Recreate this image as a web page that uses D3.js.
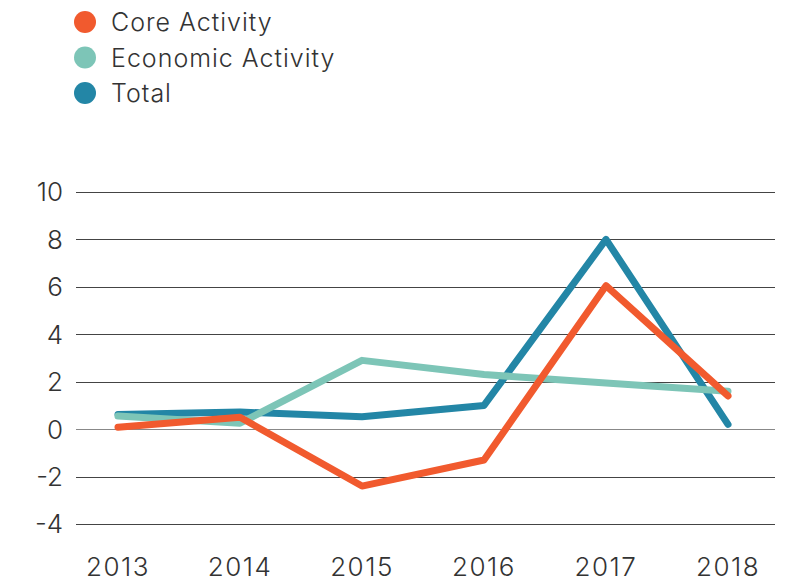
<!DOCTYPE html>
<html>
<head>
<meta charset="utf-8">
<script src="https://cdn.jsdelivr.net/npm/d3@7"></script>
<style>
  body { margin: 0; background: #fff; }
  text { font-family: Inter, "Liberation Sans", sans-serif; font-weight: 300; }
</style>
</head>
<body>
<div id="chart"></div>
<script>
// data
let years = ["2013", "2014", "2015", "2016", "2017", "2018"];
let coreActivity = [0.08, 0.5, -2.4, -1.3, 6.05, 1.4];
let economicActivity = [0.55, 0.25, 2.9, 2.3, 1.95, 1.6];
let total = [0.62, 0.72, 0.52, 1.0, 8.0, 0.2];
let yTicks = [-4, -2, 0, 2, 4, 6, 8, 10];

let seriesNames = ["Core Activity", "Economic Activity", "Total"];
let seriesColors = ["#f15a2e", "#7dc5b7", "#2386a6"];

let width = 785, height = 581;

let svg = d3.select("#chart")
    .append("svg")
    .attr("width", width)
    .attr("height", height);

let x = d3.scalePoint()
    .domain(years)
    .range([118, 728]);

let y = d3.scaleLinear()
    .domain([-4, 10])
    .range([524, 192]);

// gridlines
svg.append("g")
    .selectAll("line")
    .data(yTicks)
    .enter()
    .append("line")
    .attr("x1", 76)
    .attr("x2", 775)
    .attr("y1", d => Math.round(y(d)) + 0.5)
    .attr("y2", d => Math.round(y(d)) + 0.5)
    .attr("stroke", d => d === 0 ? "#888" : "#444")
    .attr("stroke-width", 1.2);

// y labels
svg.append("g")
    .selectAll("text")
    .data(yTicks)
    .enter()
    .append("text")
    .attr("x", 63)
    .attr("y", d => y(d))
    .attr("dy", "0.36em")
    .attr("text-anchor", "end")
    .attr("fill", "#333")
    .style("font-size", "26px")
    .text(d => d);

// x labels
svg.append("g")
    .selectAll("text")
    .data(years)
    .enter()
    .append("text")
    .attr("x", d => x(d))
    .attr("y", 576)
    .attr("text-anchor", "middle")
    .attr("fill", "#333")
    .style("font-size", "26px")
    .style("letter-spacing", "1.5px")
    .text(d => d);

let line = d3.line()
    .x((d, i) => x(years[i]))
    .y(d => y(d));

// draw order: total, economic, core
let drawOrder = [
    {values: total, color: seriesColors[2]},
    {values: economicActivity, color: seriesColors[1]},
    {values: coreActivity, color: seriesColors[0]}
];

svg.append("g")
    .selectAll("path")
    .data(drawOrder)
    .enter()
    .append("path")
    .attr("d", d => line(d.values))
    .attr("fill", "none")
    .attr("stroke", d => d.color)
    .attr("stroke-width", 7)
    .attr("stroke-linecap", "round")
    .attr("stroke-linejoin", "round");

// legend
let legend = svg.append("g")
    .selectAll("g")
    .data(seriesNames)
    .enter()
    .append("g")
    .attr("transform", (d, i) => "translate(85," + (22 + i * 35.5) + ")");

legend.append("circle")
    .attr("r", 11)
    .attr("fill", (d, i) => seriesColors[i]);

legend.append("text")
    .attr("x", 26)
    .attr("dy", "0.36em")
    .attr("fill", "#333")
    .style("font-size", "25px")
    .style("letter-spacing", "1px")
    .text(d => d);
</script>
</body>
</html>
